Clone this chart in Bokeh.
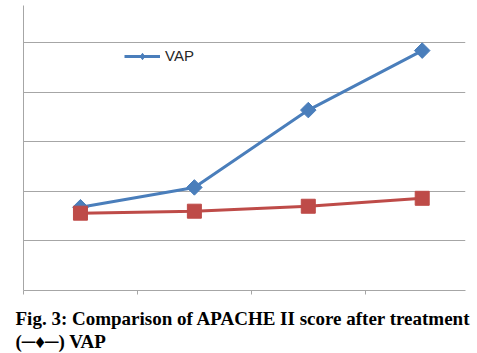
from bokeh.plotting import figure
from bokeh.models import Range1d, FixedTicker, Title, Legend, LegendItem, CustomLabelingPolicy
from bokeh.embed import file_html
from bokeh.resources import INLINE

# data
x_pos = [0.5, 1.5, 2.5, 3.5]
vap = [8.4, 10.4, 18.2, 24.2]
other = [7.8, 8.0, 8.5, 9.3]
y_grid = [5, 10, 15, 20, 25]
x_ticks = [0, 1, 2, 3, 4]
caption1 = "Fig. 3: Comparison of APACHE II score after treatment"
caption2 = "(\u2500\u2666\u2500) VAP"

BLUE = "#4A7EBB"
RED = "#BE4B48"
GRID = "#A6A6A6"

no_labels = CustomLabelingPolicy(code="""
const ids = [...indices];
for (const i of ids) indices.unset(i);
return indices;
""")

p = figure(width=477, height=353, output_backend="svg", toolbar_location=None,
           x_range=Range1d(0, 3.88), y_range=Range1d(0, 28.75),
           min_border_left=23, min_border_right=12, min_border_top=5,
           min_border_bottom=63)
p.outline_line_color = None
p.background_fill_color = "white"
p.border_fill_color = "white"

# axes
p.xaxis.ticker = FixedTicker(ticks=x_ticks)
p.xaxis.major_label_policy = no_labels
p.xaxis.major_label_standoff = 0
p.xaxis.major_tick_in = 0
p.xaxis.major_tick_out = 4
p.xaxis.minor_tick_line_color = None
p.xaxis.axis_line_color = GRID
p.xaxis.major_tick_line_color = GRID

p.yaxis.ticker = FixedTicker(ticks=y_grid)
p.yaxis.major_label_policy = no_labels
p.yaxis.major_label_standoff = 0
p.yaxis.major_tick_in = 0
p.yaxis.major_tick_out = 0
p.yaxis.minor_tick_line_color = None
p.yaxis.axis_line_color = GRID

p.xgrid.grid_line_color = None
p.ygrid.grid_line_color = GRID
p.ygrid.grid_line_width = 1

# series
l1 = p.line(x_pos, vap, line_color=BLUE, line_width=3)
m_leg = p.scatter(x_pos, vap, marker="diamond", size=12,
                  fill_color=BLUE, line_color=BLUE)
p.scatter(x_pos, vap, marker="square", angle=0.785398, size=11,
          fill_color=BLUE, line_color=BLUE)
p.line(x_pos, other, line_color=RED, line_width=3)
p.scatter(x_pos, other, marker="square", size=14, fill_color=RED, line_color=RED)

legend = Legend(items=[LegendItem(label="VAP", renderers=[l1, m_leg])],
                location=(101, 226), orientation="horizontal",
                background_fill_alpha=0, border_line_color=None,
                padding=0, margin=0, spacing=0,
                glyph_width=36, glyph_height=16, label_height=16,
                label_standoff=5,
                label_text_font="Liberation Sans", label_text_font_size="15px",
                label_text_color="#262626")
p.add_layout(legend, "center")

t1 = Title(text=caption1, align="left", text_font="Liberation Serif",
           text_font_size="19px", text_font_style="bold", text_color="black",
           standoff=0, offset=-8)
t2 = Title(text=caption2, align="left", text_font="Liberation Serif",
           text_font_size="19px", text_font_style="bold", text_color="black",
           standoff=0, offset=-8)
p.add_layout(t1, "below")
p.add_layout(t2, "below")

open("out.html", "w").write(file_html(p, INLINE))
